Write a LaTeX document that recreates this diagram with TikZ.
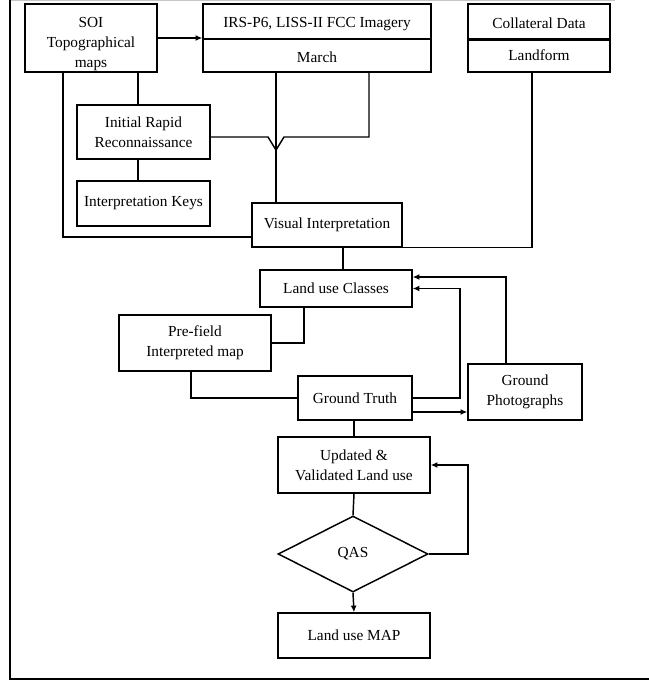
\documentclass[tikz,border=0pt]{standalone}
\usepackage{fontspec}
\setmainfont{Liberation Serif}
\usetikzlibrary{arrows.meta,shapes.geometric}
\tikzset{
  box/.style={draw, line width=1.1pt, inner sep=1pt, align=center, font=\fontsize{11.5}{15}\selectfont},
  conn/.style={line width=1.1pt},
  arr/.style={conn, -{Latex[length=5pt,width=4.5pt]}},
}
\newcommand{\bx}[6]{\node[box,minimum width={(#4-#2)*0.75pt},minimum height={(#5-#3)*0.75pt}] (#1) at ({(#2+#4)/2},{(#3+#5)/2}) {#6};}
\begin{document}
\begin{tikzpicture}[x=0.75pt,y=-0.75pt]
\useasboundingbox (0,0) rectangle (649,683);
% frame
\draw[gray!45, line width=0.8pt] (10,0.6) -- (615,0.6);
\draw[line width=1.5pt] (10,0) -- (10,679) -- (649,679);
% boxes
\bx{soi}{25}{4}{157}{72}{\rule{0pt}{16pt}SOI\\Topographical\\maps}
\bx{irsa}{203}{4}{431}{39}{\rule{0pt}{12pt}IRS-P6, LISS-II FCC Imagery}
\bx{irsb}{203}{39}{431}{72}{\rule{0pt}{10pt}March}
\bx{cola}{468}{4}{610}{39}{\rule{0pt}{10pt}Collateral Data}
\bx{colb}{468}{39}{610}{72}{Landform}
\draw[line width=1.8pt] (cola.south west) -- (cola.south east);
\bx{irr}{77}{105}{210}{159}{Initial Rapid\\Reconnaissance}
\bx{keys}{77}{181}{210}{226}{Interpretation Keys}
\bx{vi}{252}{203}{402}{247}{Visual Interpretation}
\bx{luc}{260}{270}{412}{307}{Land use Classes}
\bx{pre}{119}{315}{271}{371}{Pre-field\\Interpreted map}
\bx{gt}{298}{376}{412}{420}{Ground Truth}
\bx{gp}{468}{364}{582}{420}{Ground\\Photographs}
\bx{upd}{278}{437}{430}{493}{Updated \&\\Validated Land use}
\node[draw, diamond, line width=1.1pt, inner sep=0pt, minimum width={150*0.75pt}, minimum height={76*0.75pt}, font=\fontsize{11.5}{15}\selectfont] (qas) at (353,554) {QAS};
\bx{map}{278}{613}{430}{658}{Land use MAP}
% connectors
\draw[arr] (soi.east) -- (soi.east -| irsa.west);
\draw[conn] (138,0 |- soi.south) -- (138,0 |- irr.north);
\draw[conn] (138,0 |- irr.south) -- (138,0 |- keys.north);
\draw[conn] (63,0 |- soi.south) |- (vi.west |- 0,237);
\draw[conn] (276,0 |- irsb.south) -- (276,0 |- vi.north);
\draw[conn] (irr.east |- 0,137) -- (268,137) -- (276,150) -- (284,137) -- (369,137) -- (369,0 |- irsb.south);
\draw[conn] (532,0 |- colb.south) |- (vi.south east);
\draw[conn] (343,0 |- vi.south) -- (343,0 |- luc.north);
\draw[conn] (304,0 |- luc.south) |- (pre.east);
\draw[conn] (191,0 |- pre.south) |- (gt.west);
\draw[arr] (gt.east) -| (460,0 |- luc.east) -- (luc.east);
\draw[arr] (506,0 |- gp.north) |- (luc.east |- 0,277);
\draw[arr] (gt.east |- 0,412) -- (gp.west |- 0,412);
\draw[conn] (upd.north |- gt.south) -- (upd.north);
\draw[conn] (upd.south) -- (qas.north);
\draw[arr] (qas.east) -| (468,0 |- upd.east) -- (upd.east);
\draw[arr] (qas.south) -- (map.north);
\end{tikzpicture}
\end{document}
